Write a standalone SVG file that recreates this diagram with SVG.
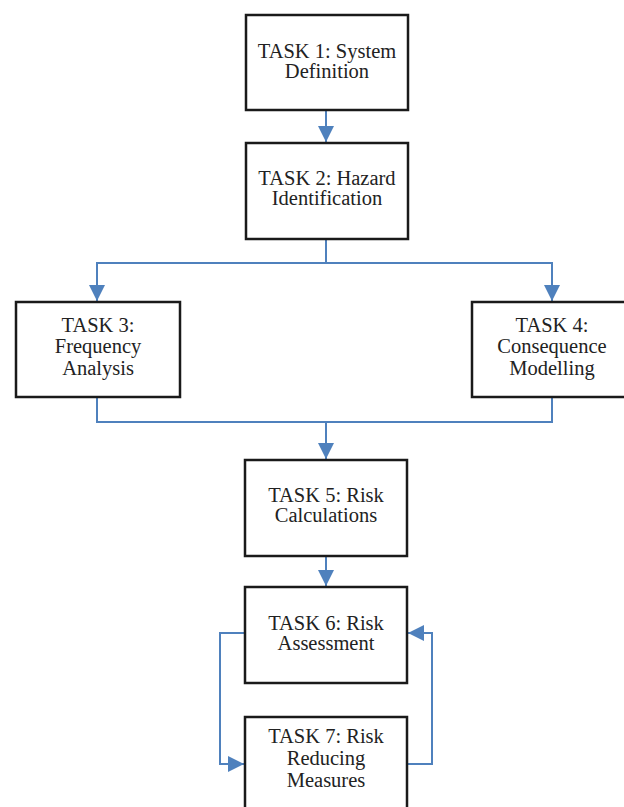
<svg xmlns="http://www.w3.org/2000/svg" width="624" height="807" viewBox="0 0 624 807">
<style>
.box{fill:#fff;stroke:#1a1a1a;stroke-width:2.5}
.lbl{font-family:"Liberation Serif","Times New Roman",serif;font-size:20.5px;fill:#222;text-anchor:middle}
.con{fill:none;stroke:#4f81bd;stroke-width:2}
</style>
<defs>
<marker id="ah" viewBox="0 0 10 10" refX="10" refY="5" markerWidth="8" markerHeight="8" markerUnits="strokeWidth" orient="auto">
<path d="M0,0 L10,5 L0,10 z" fill="#4f81bd"/>
</marker>
</defs>
<rect width="624" height="807" fill="#fff"/>
<g id="connectors">
<path class="con" d="M326,110 V142" marker-end="url(#ah)"/>
<path class="con" d="M326,239 V263 H97 V301" marker-end="url(#ah)"/>
<path class="con" d="M326,263 H552 V301" marker-end="url(#ah)"/>
<path class="con" d="M97,397 V422 H552 V397"/>
<path class="con" d="M326,422 V459" marker-end="url(#ah)"/>
<path class="con" d="M326,556 V586" marker-end="url(#ah)"/>
<path class="con" d="M245,633 H220 V764 H244" marker-end="url(#ah)"/>
<path class="con" d="M407,764 H432 V633 H408" marker-end="url(#ah)"/>
</g>
<g id="task1"><rect class="box" x="246" y="15" width="162" height="95"/>
<text class="lbl" x="327" y="58">TASK 1: System</text><text class="lbl" x="327" y="78">Definition</text></g>
<g id="task2"><rect class="box" x="246" y="143" width="162" height="96"/>
<text class="lbl" x="327" y="185">TASK 2: Hazard</text><text class="lbl" x="327" y="205">Identification</text></g>
<g id="task3"><rect class="box" x="16" y="302" width="164" height="95"/>
<text class="lbl" x="98" y="332">TASK 3:</text><text class="lbl" x="98" y="353">Frequency</text><text class="lbl" x="98" y="375">Analysis</text></g>
<g id="task4"><rect class="box" x="472" y="302" width="164" height="95"/>
<text class="lbl" x="552" y="332">TASK 4:</text><text class="lbl" x="552" y="353">Consequence</text><text class="lbl" x="552" y="375">Modelling</text></g>
<g id="task5"><rect class="box" x="245" y="460" width="162" height="96"/>
<text class="lbl" x="326" y="502">TASK 5: Risk</text><text class="lbl" x="326" y="522">Calculations</text></g>
<g id="task6"><rect class="box" x="245" y="587" width="162" height="96"/>
<text class="lbl" x="326" y="630">TASK 6: Risk</text><text class="lbl" x="326" y="650">Assessment</text></g>
<g id="task7"><rect class="box" x="245" y="717" width="162" height="100"/>
<text class="lbl" x="326" y="743">TASK 7: Risk</text><text class="lbl" x="326" y="765">Reducing</text><text class="lbl" x="326" y="787">Measures</text></g>
</svg>
